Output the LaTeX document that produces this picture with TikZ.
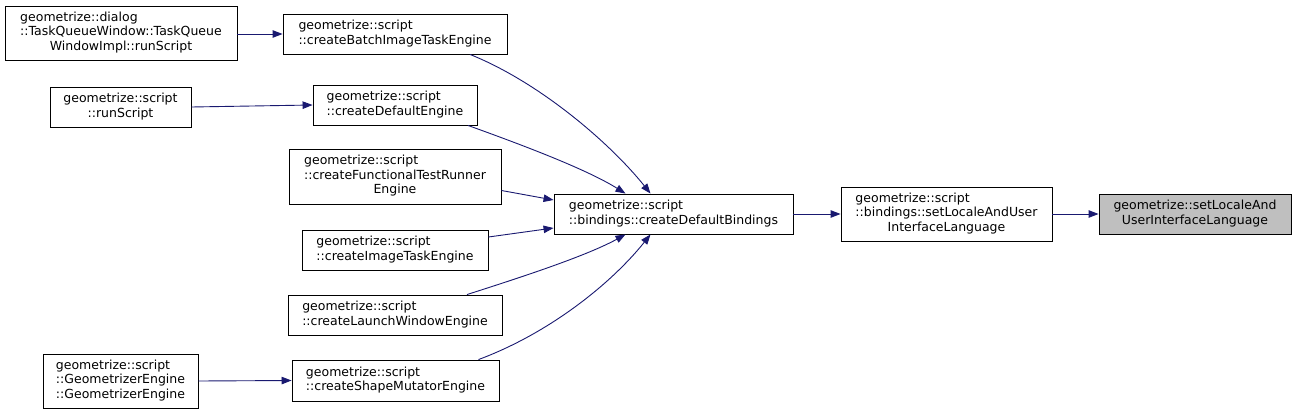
\documentclass[tikz,border=0pt]{standalone}
\usepackage{fontspec}
\setmainfont{DejaVu Sans}
\usetikzlibrary{arrows.meta}
\definecolor{edgeblue}{HTML}{191970}
\definecolor{hlgray}{HTML}{BFBFBF}
\newcommand{\lbl}[2]{\begin{tabular}{@{}l@{}}#1\\\multicolumn{1}{@{}c@{}}{#2}\end{tabular}}
\begin{document}
\begin{tikzpicture}[x=1pt,y=-1pt,
  fn/.style={draw=black, line width=0.9pt, fill=white, inner sep=0pt, font=\fontsize{12.5}{14.5}\selectfont},
  call/.style={draw=edgeblue, line width=0.9pt, -{Triangle[length=10pt,width=7.5pt]}, edgeblue},
  ]
\useasboundingbox (0,0) rectangle (1296,415);
\node[fn, minimum width=232pt, minimum height=54pt] (n1) at (121,33) {\lbl{geometrize::dialog\\::TaskQueueWindow::TaskQueue}{WindowImpl::runScript}};
\node[fn, minimum width=224pt, minimum height=40pt] (n2) at (395,34) {\lbl{geometrize::script}{::createBatchImageTaskEngine}};
\node[fn, minimum width=141pt, minimum height=40pt] (n3) at (120.5,107) {\lbl{geometrize::script}{::runScript}};
\node[fn, minimum width=164pt, minimum height=40pt] (n4) at (395,105) {\lbl{geometrize::script}{::createDefaultEngine}};
\node[fn, minimum width=212pt, minimum height=55pt] (n5) at (395,176.5) {\lbl{geometrize::script\\::createFunctionalTestRunner}{Engine}};
\node[fn, minimum width=239pt, minimum height=40pt] (n6) at (673.5,214) {\lbl{geometrize::script}{::bindings::createDefaultBindings}};
\node[fn, minimum width=186pt, minimum height=40pt] (n7) at (395,250) {\lbl{geometrize::script}{::createImageTaskEngine}};
\node[fn, minimum width=214pt, minimum height=40pt] (n8) at (395,315) {\lbl{geometrize::script}{::createLaunchWindowEngine}};
\node[fn, minimum width=155pt, minimum height=54pt] (n9) at (120.5,381) {\lbl{geometrize::script\\::GeometrizerEngine}{::GeometrizerEngine}};
\node[fn, minimum width=207pt, minimum height=41pt] (n10) at (395.5,380.5) {\lbl{geometrize::script}{::createShapeMutatorEngine}};
\node[fn, minimum width=211pt, minimum height=54pt] (n11) at (946.5,214) {\lbl{geometrize::script\\::bindings::setLocaleAndUser}{InterfaceLanguage}};
\node[fn, fill=hlgray, minimum width=192pt, minimum height=40pt] (n12) at (1195,214) {\lbl{geometrize::setLocaleAnd}{UserInterfaceLanguage}};

\draw[call] (n1.east |- n2.west) -- (n2.west);
\draw[call] (n3.east) -- (n4.west);
\draw[call] (n9.east) -- (n10.west);
\draw[call] (n6.east) -- (n11.west);
\draw[call] (n11.east) -- (n12.west);
\draw[call] ([xshift=75pt]n2.south) .. controls +(70,28) and +(-40,-50) .. ([xshift=-23pt]n6.north);
\draw[call] ([xshift=73pt]n4.south) .. controls +(50,18) and +(-40,-25) .. ([xshift=-48pt]n6.north);
\draw[call] ([yshift=-14pt]n5.east) -- ([yshift=14pt]n6.west);
\draw[call] ([yshift=13pt]n7.east) -- ([yshift=-14pt]n6.west);
\draw[call] ([xshift=72pt]n8.north) .. controls +(50,-16) and +(-40,22) .. ([xshift=-48pt]n6.south);
\draw[call] ([xshift=83pt]n10.north) .. controls +(70,-26) and +(-40,50) .. ([xshift=-23pt]n6.south);
\end{tikzpicture}
\end{document}
